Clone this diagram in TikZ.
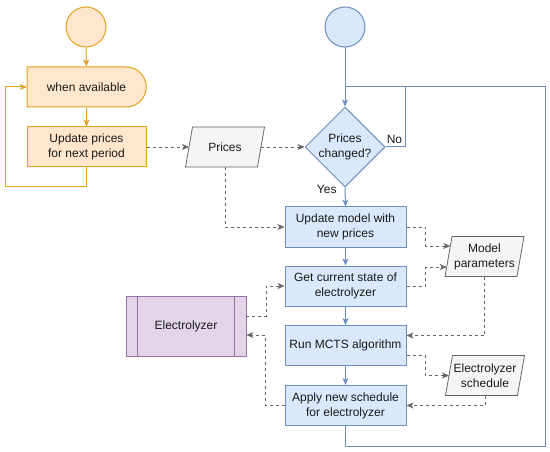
\documentclass[tikz,border=0pt]{standalone}
\usepackage{fontspec}
\setmainfont{Liberation Sans}
\usetikzlibrary{shapes.geometric,shapes.misc,arrows.meta,calc}
\definecolor{ofill}{HTML}{FFE6CC}
\definecolor{oline}{HTML}{E3A21A}
\definecolor{bfill}{HTML}{DAE8FC}
\definecolor{bline}{HTML}{6C8EBF}
\definecolor{pfill}{HTML}{E1D5E7}
\definecolor{pline}{HTML}{9673A6}
\definecolor{gfill}{HTML}{F5F5F5}
\definecolor{gline}{HTML}{666666}
\definecolor{txt}{HTML}{1A1A1A}
% parallelogram data box: name, x, y, text
\newcommand\gpara[4]{%
  \path[draw=gline, fill=gfill, line width=0.8pt] ($(#2,#3)+(-39.5,20)$) -- ++(72,0) -- ++(7,-40) -- ++(-72,0) -- cycle;
  \node (#1) at (#2,#3) {#4};
  \coordinate (#1-w) at ($(#2,#3)+(-36,0)$);
  \coordinate (#1-e) at ($(#2,#3)+(36,0)$);
  \coordinate (#1-s) at ($(#2,#3)+(0,20)$);}
\begin{document}
\begin{tikzpicture}[x=1pt,y=-1pt,
  every node/.style={font=\fontsize{12}{15}\selectfont, text=txt, align=center, inner sep=0pt},
  tip/.style={-{Stealth[length=7pt,width=6pt,inset=2pt]}},
  ostep/.style={draw=oline, fill=ofill, line width=1pt, minimum width=119pt, minimum height=40pt},
  bstep/.style={draw=bline, fill=bfill, line width=1pt, minimum width=121pt, minimum height=40pt},
  oarrow/.style={draw=oline, line width=1pt, tip},
  barrow/.style={draw=bline, line width=1pt, tip},
  bline/.style={draw=bline, line width=1pt},
  garrow/.style={draw=gline, line width=0.8pt, dash pattern=on 3pt off 3pt, tip},
]
\useasboundingbox (0,0) rectangle (550,452);

% orange column
\node[ostep, circle, minimum size=40pt] (oc) at (86,27) {};
\node[ostep, rounded rectangle, rounded rectangle left arc=none] (wa) at (86.5,87) {when available};
\node[ostep, rectangle] (up) at (86.5,147) {Update prices\\for next period};
\draw[oarrow] (oc) -- (wa);
\draw[oarrow] (wa) -- (up);
\draw[oarrow] (up.south) -- ++(0,19) -| ([xshift=-21pt]wa.west) -- (wa.west);

% data
\gpara{pr}{225}{147}{Prices}
\gpara{mp}{484.5}{256.5}{Model\\parameters}
\gpara{es}{485}{375.5}{Electrolyzer\\schedule}
\coordinate (mp-a) at ($(mp)+(-34.2,-10.5)$);
\coordinate (mp-b) at ($(mp)+(-37.8,10.5)$);

% blue column
\node[bstep, circle, minimum size=40pt] (bc) at (345,27) {};
\node[draw=bline, fill=bfill, line width=1pt, diamond, minimum width=80pt, minimum height=80pt, aspect=1] (dia) at (345,147) {Prices\\changed?};
\node[bstep] (b1) at (345.5,227) {Update model with\\new prices};
\node[bstep] (b2) at (345.5,286) {Get current state of\\electrolyzer};
\node[bstep] (b3) at (345.5,345.5) {Run MCTS algorithm};
\node[bstep] (b4) at (345.5,405.5) {Apply new schedule\\for electrolyzer};
\coordinate (j) at (345,87);

% electrolyzer
\node[draw=pline, fill=pfill, line width=0.8pt, minimum width=120pt, minimum height=60pt] (el) at (186,326) {Electrolyzer};
\draw[pline, line width=0.8pt] ($(el.north west)+(12pt,0)$) -- ($(el.south west)+(12pt,0)$);
\draw[pline, line width=0.8pt] ($(el.north east)+(-12pt,0)$) -- ($(el.south east)+(-12pt,0)$);

% blue connectors
\draw[barrow] (bc) -- (dia);
\draw[bline] (dia.east) -- ++(20,0) node[pos=0.45, above=3pt] {No} |- (j);
\draw[barrow] (dia.south) -- node[pos=0.05, left=8pt, yshift=-1pt] {Yes} (b1.north);
\draw[barrow] (b1) -- (b2);
\draw[barrow] (b2) -- (b3);
\draw[barrow] (b3) -- (b4);
\draw[bline] (b4.south) -- ++(0,20) -| ([xshift=200pt]j) -- (j);

% dashed data flow
\draw[garrow] (up.east) -- (pr-w);
\draw[garrow] (pr-e) -- (dia.west);
\draw[garrow] (pr-s) |- (b1.west);
\draw[garrow] ([yshift=10pt]el.east) -- ++(20,0) |- (b2.west);
\draw[garrow] (b4.west) -- ++(-19,0) |- ([yshift=-9pt]el.east);
\draw[garrow] (b1.east) -- ++(19,0) |- (mp-a);
\draw[garrow] (b2.east) -- ++(19,0) |- (mp-b);
\draw[garrow] (mp-s) |- ([yshift=10pt]b3.east);
\draw[garrow] ([yshift=-10pt]b3.east) -- ++(19,0) |- (es-w);
\draw[garrow] (es-s) |- (b4.east);
\end{tikzpicture}
\end{document}
